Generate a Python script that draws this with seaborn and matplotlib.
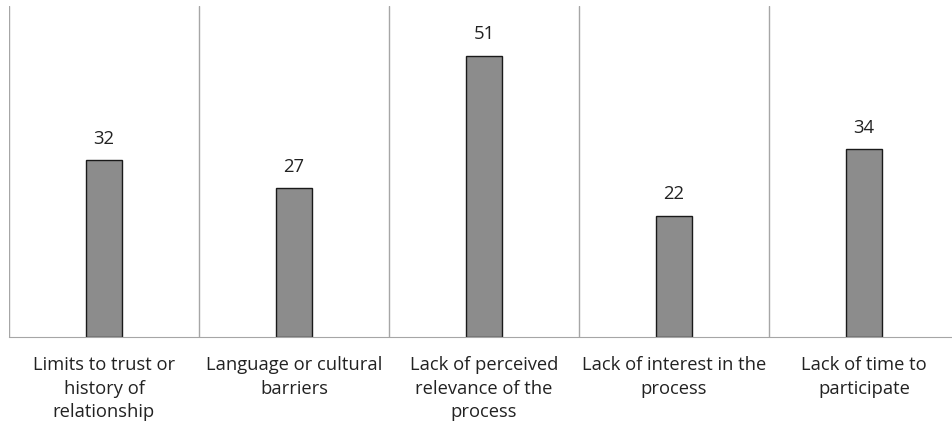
import seaborn as sns
import matplotlib.pyplot as plt
import pandas as pd

categories = [
    "Limits to trust or\nhistory of\nrelationship",
    "Language or cultural\nbarriers",
    "Lack of perceived\nrelevance of the\nprocess",
    "Lack of interest in the\nprocess",
    "Lack of time to\nparticipate",
]
counts = [32, 27, 51, 22, 34]

df = pd.DataFrame({"reason": categories, "count": counts})

sns.set_style("white")
plt.rcParams['font.family'] = ['Open Sans', 'DejaVu Sans']

fig = plt.figure(figsize=(9.52, 4.3), dpi=100)
ax = fig.add_axes([9 / 952, (430 - 337) / 430, 950 / 952, 331 / 430])

sns.barplot(data=df, x="reason", y="count", color="#8c8c8c", edgecolor="#1a1a1a",
            linewidth=1, width=0.185, saturation=1, ax=ax)

ax.set_xlim(-0.5, len(categories) - 0.5)
ax.set_ylim(0, 60)

# category separators
for i in range(len(categories)):
    ax.axvline(i - 0.5, color="#a6a6a6", linewidth=1, zorder=0)

for i, v in enumerate(counts):
    ax.annotate(str(v), (i, v), xytext=(0, 9), textcoords="offset points",
                ha="center", va="bottom", fontsize=13.3, color="#222222")

for s in ["top", "right", "left"]:
    ax.spines[s].set_visible(False)
ax.spines["bottom"].set_color("#a6a6a6")
ax.set_yticks([])
ax.set_xlabel("")
ax.set_ylabel("")
ax.tick_params(axis="x", length=0, pad=14, labelsize=13.2, labelcolor="#222222")
for lbl in ax.get_xticklabels():
    lbl.set_linespacing(1.38)
    lbl.set_va("top")

fig.savefig("out.png", dpi=100)
